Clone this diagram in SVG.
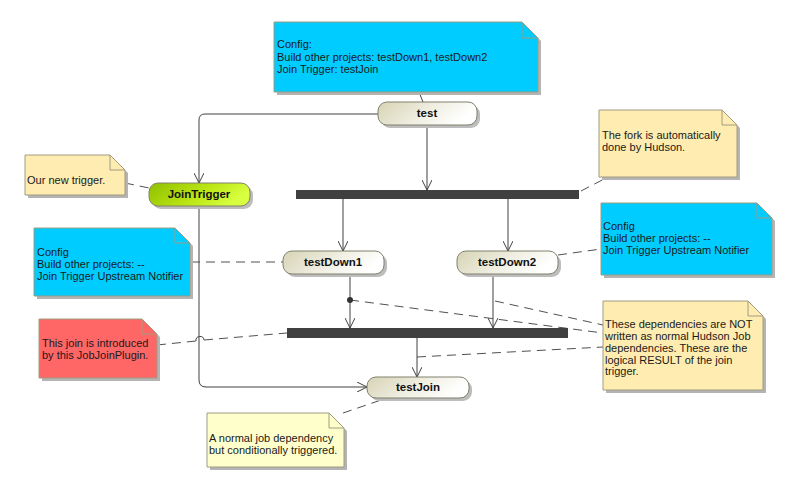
<svg xmlns="http://www.w3.org/2000/svg" width="789" height="487" viewBox="0 0 789 487">
<defs>
<linearGradient id="gBeige" x1="0" y1="0" x2="1" y2="0.3">
<stop offset="0" stop-color="#d6d3b4"/>
<stop offset="0.6" stop-color="#f1f0e4"/>
<stop offset="1" stop-color="#ffffff"/>
</linearGradient>
<linearGradient id="gGreen" x1="0" y1="0" x2="1" y2="0.3">
<stop offset="0" stop-color="#8fc000"/>
<stop offset="0.6" stop-color="#bce614"/>
<stop offset="1" stop-color="#d8ff40"/>
</linearGradient>
<marker id="arr" viewBox="0 0 10 10" refX="10" refY="5" markerWidth="10" markerHeight="10" markerUnits="userSpaceOnUse" orient="auto">
<path d="M0,0 L10,5 L0,10" fill="none" stroke="#404040" stroke-width="1"/>
</marker>
</defs>
<style>
.note{stroke:#a09c80;stroke-width:1}
.shadow{fill:#b4b4b4}
.fold{fill:none;stroke:#a09c80;stroke-width:1}
.cyan{fill:#00ccff}
.yel{fill:#ffecb0}
.lyel{fill:#ffffcc}
.red{fill:#ff6666}
.nt{font-family:"Liberation Sans",Arial,sans-serif;font-size:11px;fill:#1a1a1a}
.node{stroke:#80806c;stroke-width:1}
.nshadow{fill:#bdbdbd}
.lbl{font-family:"Liberation Sans",Arial,sans-serif;font-size:11.5px;font-weight:bold;fill:#111;text-anchor:middle}
.flow{fill:none;stroke:#404040;stroke-width:1}
.dash{fill:none;stroke:#505050;stroke-width:1;stroke-dasharray:9,6}
.bar{fill:#404040}
</style>

<g id="connectors">
<!-- note anchors -->
<line class="flow" x1="419" y1="92" x2="423" y2="102"/>
<path class="dash" d="M125,183 L149,188"/>
<path class="dash" d="M191,262 L283,262"/>
<path class="dash" d="M581,191 L608,177"/>
<path class="dash" d="M558,255 L601,249"/>
<path class="dash" d="M157,345 L196,341 M204,340 L287,333"/>
<path class="flow" d="M196,341 A4,4 0 0 1 204,340"/>
<path class="dash" d="M350,300 L603,333"/>
<path class="dash" d="M495,301 L603,325"/>
<path class="dash" d="M417,357 L603,347"/>
<path class="dash" d="M343,413 L387,398"/>
<!-- flows -->
<path class="flow" d="M378,114 L205,114 Q199,114 199,120 L199,183" marker-end="url(#arr)"/>
<path class="flow" d="M199,206 L199,380 Q199,387 206,387 L367,387" marker-end="url(#arr)"/>
<line class="flow" x1="427" y1="125" x2="427" y2="190" marker-end="url(#arr)"/>
<line class="flow" x1="343" y1="199" x2="343" y2="251" marker-end="url(#arr)"/>
<line class="flow" x1="508" y1="199" x2="508" y2="251" marker-end="url(#arr)"/>
<line class="flow" x1="350" y1="274" x2="350" y2="328" marker-end="url(#arr)"/>
<circle cx="350" cy="300" r="3" fill="#333"/>
<line class="flow" x1="493" y1="274" x2="493" y2="328" marker-end="url(#arr)"/>
<line class="flow" x1="417" y1="338" x2="417" y2="377" marker-end="url(#arr)"/>
</g>

<g id="forkBar"><rect class="bar" x="296" y="190" width="283" height="9"/></g>
<g id="joinBar"><rect class="bar" x="287" y="328" width="281" height="10"/></g>

<g id="noteTopConfig">
<path class="shadow" d="M277,25 L525,25 L541,41 L541,95 L277,95 Z"/>
<path class="note cyan" d="M274,22 L522,22 L538,38 L538,92 L274,92 Z"/>
<path class="fold" d="M522,22 L522,38 L538,38"/>
<text class="nt" x="277" y="48">Config:</text>
<text class="nt" x="277" y="61">Build other projects: testDown1, testDown2</text>
<text class="nt" x="277" y="73">Join Trigger: testJoin</text>
</g>

<g id="test">
<rect class="nshadow" x="381" y="105" width="99" height="23" rx="9"/>
<rect class="node" x="378" y="102" width="99" height="23" rx="9" fill="url(#gBeige)"/>
<text class="lbl" x="427" y="117">test</text>
</g>

<g id="noteNewTrigger">
<path class="shadow" d="M28,158 L113,158 L128,173 L128,198 L28,198 Z"/>
<path class="note yel" d="M25,155 L110,155 L125,170 L125,195 L25,195 Z"/>
<path class="fold" d="M110,155 L110,170 L125,170"/>
<text class="nt" x="27" y="184">Our new trigger.</text>
</g>

<g id="JoinTrigger">
<rect class="nshadow" x="152" y="186" width="101" height="23" rx="9"/>
<rect class="node" x="149" y="183" width="101" height="23" rx="9" fill="url(#gGreen)" stroke="#7a9a10"/>
<text class="lbl" x="199" y="198">JoinTrigger</text>
</g>

<g id="noteForkHudson">
<path class="shadow" d="M602,113 L725,113 L740,128 L740,180 L602,180 Z"/>
<path class="note yel" d="M599,110 L722,110 L737,125 L737,177 L599,177 Z"/>
<path class="fold" d="M722,110 L722,125 L737,125"/>
<text class="nt" x="602" y="139">The fork is automatically</text>
<text class="nt" x="602" y="151">done by Hudson.</text>
</g>

<g id="noteLeftConfig">
<path class="shadow" d="M37,231 L178,231 L193,246 L193,299 L37,299 Z"/>
<path class="note cyan" d="M34,228 L175,228 L190,243 L190,296 L34,296 Z"/>
<path class="fold" d="M175,228 L175,243 L190,243"/>
<text class="nt" x="37" y="256">Config</text>
<text class="nt" x="37" y="268">Build other projects: --</text>
<text class="nt" x="37" y="280">Join Trigger Upstream Notifier</text>
</g>

<g id="testDown1">
<rect class="nshadow" x="286" y="254" width="101" height="23" rx="9"/>
<rect class="node" x="283" y="251" width="101" height="23" rx="9" fill="url(#gBeige)"/>
<text class="lbl" x="333" y="266">testDown1</text>
</g>

<g id="testDown2">
<rect class="nshadow" x="460" y="254" width="101" height="23" rx="9"/>
<rect class="node" x="457" y="251" width="101" height="23" rx="9" fill="url(#gBeige)"/>
<text class="lbl" x="507" y="266">testDown2</text>
</g>

<g id="noteRightConfig">
<path class="shadow" d="M604,206 L760,206 L775,221 L775,278 L604,278 Z"/>
<path class="note cyan" d="M601,203 L757,203 L772,218 L772,275 L601,275 Z"/>
<path class="fold" d="M757,203 L757,218 L772,218"/>
<text class="nt" x="603" y="230">Config</text>
<text class="nt" x="603" y="242">Build other projects: --</text>
<text class="nt" x="603" y="254">Join Trigger Upstream Notifier</text>
</g>

<g id="noteJoinPlugin">
<path class="shadow" d="M42,322 L145,322 L160,337 L160,381 L42,381 Z"/>
<path class="note red" d="M39,319 L142,319 L157,334 L157,378 L39,378 Z" stroke="#b07070"/>
<path class="fold" d="M142,319 L142,334 L157,334" stroke="#b07070"/>
<text class="nt" x="42" y="347">This join is introduced</text>
<text class="nt" x="42" y="359">by this JobJoinPlugin.</text>
</g>

<g id="noteDependencies">
<path class="shadow" d="M606,304 L751,304 L766,319 L766,393 L606,393 Z"/>
<path class="note yel" d="M603,301 L748,301 L763,316 L763,390 L603,390 Z"/>
<path class="fold" d="M748,301 L748,316 L763,316"/>
<text class="nt" x="605" y="328">These dependencies are NOT</text>
<text class="nt" x="605" y="340">written as normal Hudson Job</text>
<text class="nt" x="605" y="352">dependencies. These are the</text>
<text class="nt" x="605" y="364">logical RESULT of the join</text>
<text class="nt" x="605" y="375">trigger.</text>
</g>

<g id="testJoin">
<rect class="nshadow" x="370" y="380" width="102" height="21" rx="9"/>
<rect class="node" x="367" y="377" width="102" height="21" rx="9" fill="url(#gBeige)"/>
<text class="lbl" x="418" y="391">testJoin</text>
</g>

<g id="noteTestJoin">
<path class="shadow" d="M210,416 L332,416 L347,431 L347,470 L210,470 Z"/>
<path class="note lyel" d="M207,413 L329,413 L344,428 L344,467 L207,467 Z"/>
<path class="fold" d="M329,413 L329,428 L344,428"/>
<text class="nt" x="209" y="442">A normal job dependency</text>
<text class="nt" x="209" y="454">but conditionally triggered.</text>
</g>
</svg>
